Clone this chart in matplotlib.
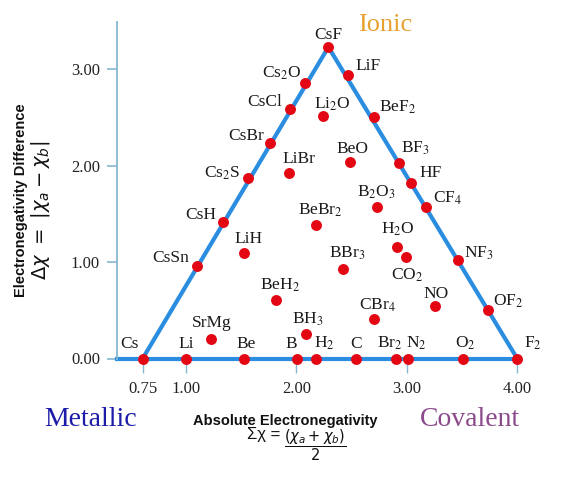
import numpy as np
import matplotlib
matplotlib.use('Agg')
import matplotlib.pyplot as plt

# ---------------- data ----------------
species = ['Cs', 'Li', 'Be', 'B', 'H$_2$', 'C', 'Br$_2$', 'N$_2$', 'O$_2$', 'F$_2$',
           'CsSn', 'CsH', 'Cs$_2$S', 'CsBr', 'CsCl', 'Cs$_2$O', 'CsF',
           'LiF', 'BeF$_2$', 'BF$_3$', 'HF', 'CF$_4$', 'NF$_3$', 'OF$_2$',
           'Li$_2$O', 'LiBr', 'BeO', 'B$_2$O$_3$', 'BeBr$_2$', 'H$_2$O', 'CO$_2$',
           'BBr$_3$', 'LiH', 'BeH$_2$', 'NO', 'CBr$_4$', 'SrMg', 'BH$_3$']
abs_en = [0.75, 1.00, 1.53, 2.01, 2.18, 2.54, 2.90, 3.01, 3.51, 4.00,
          1.10, 1.34, 1.56, 1.76, 1.94, 2.08, 2.29,
          2.47, 2.70, 2.93, 3.04, 3.17, 3.46, 3.74,
          2.24, 1.93, 2.49, 2.73, 2.18, 2.91, 2.99,
          2.42, 1.53, 1.82, 3.26, 2.70, 1.23, 2.09]
diff_en = [0.00, 0.00, 0.00, 0.00, 0.00, 0.00, 0.00, 0.00, 0.00, 0.00,
           0.96, 1.42, 1.87, 2.24, 2.59, 2.86, 3.23,
           2.94, 2.50, 2.03, 1.82, 1.57, 1.02, 0.50,
           2.51, 1.92, 2.04, 1.57, 1.38, 1.16, 1.05,
           0.93, 1.09, 0.61, 0.54, 0.41, 0.20, 0.25]
x_ticks = [0.75, 1.00, 2.00, 3.00, 4.00]
x_ticklabels = ['0.75', '1.00', '2.00', '3.00', '4.00']
y_ticks = [0.00, 1.00, 2.00, 3.00]
y_ticklabels = ['0.00', '1.00', '2.00', '3.00']
vertices = ['Cs', 'CsF', 'F$_2$']   # metallic, ionic, covalent corners

# ---------------- label placement (pixels: dx, dy, ha) ----------------
label_pos = {
    'Cs': (-13, 11, 'center'), 'Li': (0, 11, 'center'), 'Be': (2, 11, 'center'),
    'B': (-6, 11, 'center'), 'H$_2$': (8, 11, 'center'), 'C': (0, 11, 'center'),
    'Br$_2$': (-6, 11, 'center'), 'N$_2$': (8, 11, 'center'), 'O$_2$': (2, 11, 'center'),
    'F$_2$': (7, 11, 'left'),
    'CsSn': (-8, 4, 'right'), 'CsH': (-7, 3, 'right'), 'Cs$_2$S': (-8, 1, 'right'),
    'CsBr': (-6, 3, 'right'), 'CsCl': (-8, 3, 'right'), 'Cs$_2$O': (-4, 5, 'right'),
    'CsF': (0, 8, 'center'),
    'LiF': (7, 5, 'left'), 'BeF$_2$': (5, 6, 'left'), 'BF$_3$': (2, 10, 'left'),
    'HF': (8, 6, 'left'), 'CF$_4$': (7, 5, 'left'), 'NF$_3$': (6, 3, 'left'),
    'OF$_2$': (5, 5, 'left'),
    'Li$_2$O': (9, 8, 'center'), 'LiBr': (10, 10, 'center'), 'BeO': (2, 9, 'center'),
    'B$_2$O$_3$': (-1, 11, 'center'), 'BeBr$_2$': (4, 11, 'center'),
    'H$_2$O': (1, 13, 'center'), 'CO$_2$': (1, -22, 'center'),
    'BBr$_3$': (5, 11, 'center'), 'LiH': (4, 10, 'center'), 'BeH$_2$': (3, 10, 'center'),
    'NO': (1, 8, 'center'), 'CBr$_4$': (4, 9, 'center'), 'SrMg': (0, 12, 'center'),
    'BH$_3$': (2, 11, 'center'),
}

# ---------------- figure ----------------
W, H = 581, 478
fig = plt.figure(figsize=(W / 100, H / 100), dpi=100)
ax = fig.add_axes([116.7 / W, 1 - 358.5 / H, 433.3 / W, 336.5 / H])

K = 1.568  # the 0.75 - 1.00 stretch of the original (not to scale)


def fwd(x):
    x = np.asarray(x, dtype=float)
    return np.where(x < 1, 1 - (1 - x) * K, x)


def inv(t):
    t = np.asarray(t, dtype=float)
    return np.where(t < 1, 1 - (1 - t) / K, t)


ax.set_xscale('function', functions=(fwd, inv))
ax.set_xlim(0.60, 4.297)
ax.set_ylim(0, 3.49)

tri_blue = '#2a8de0'
axis_blue = '#86b8d0'

# triangle edges
vx = [abs_en[species.index(v)] for v in vertices]
vy = [diff_en[species.index(v)] for v in vertices]
ax.plot(vx, vy, color=tri_blue, lw=3.0, solid_capstyle='round',
        solid_joinstyle='miter', zorder=2, clip_on=False)

# points
ax.scatter(abs_en, diff_en, s=62, color='#e30613', zorder=4, clip_on=False,
           linewidths=0)

for name, x, y in zip(species, abs_en, diff_en):
    dx, dy, ha = label_pos[name]
    ax.annotate(name, (x, y), xytext=(dx, dy), textcoords='offset pixels',
                ha=ha, va='baseline', fontsize=12.5, family='Liberation Serif',
                math_fontfamily='stix', color='#1a1a1a', zorder=5,
                annotation_clip=False)

# spines
for s in ['top', 'right']:
    ax.spines[s].set_visible(False)
ax.spines['left'].set_color(axis_blue)
ax.spines['left'].set_linewidth(1.3)
ax.spines['bottom'].set_color(tri_blue)
ax.spines['bottom'].set_linewidth(3.0)
ax.spines['bottom'].set_bounds(0.60, 4.00)
ax.spines['bottom'].set_zorder(2)

ax.set_xticks(x_ticks)
ax.set_xticklabels(x_ticklabels)
ax.set_yticks(y_ticks)
ax.set_yticklabels(y_ticklabels)
ax.minorticks_off()
ax.tick_params(axis='x', direction='out', length=10, width=1.0, color=axis_blue,
               pad=6, labelsize=12, labelcolor='#222222')
ax.tick_params(axis='y', direction='out', length=7, width=1.2, color=axis_blue,
               pad=5, labelsize=12, labelcolor='#222222')
for lab in ax.get_xticklabels() + ax.get_yticklabels():
    lab.set_family('Liberation Serif')


def ftxt(px, py, s, **kw):
    fig.text(px / W, 1 - py / H, s, ha='center', va='center', **kw)


ftxt(91, 419, 'Metallic', fontsize=20, family='Liberation Serif', color='#1c1ca8')
ftxt(470, 419, 'Covalent', fontsize=20, family='Liberation Serif', color='#8b4a8b')
ftxt(385, 25, 'Ionic', fontsize=19, family='Liberation Serif', color='#e8a030')

ftxt(285, 421, 'Absolute Electronegativity', fontsize=10.5, fontweight='bold',
     family='Liberation Sans', color='#111111')
ftxt(264, 434, 'Σχ =', fontsize=12, family='Liberation Sans', color='#111111')
ftxt(315, 445, r'$\dfrac{(\chi_a + \chi_b)}{2}$', fontsize=10.5,
     math_fontfamily='dejavusans', color='#111111')
ftxt(21, 200, 'Electronegativity Difference', fontsize=10.5, fontweight='bold',
     family='Liberation Sans', rotation=90, color='#111111')
ftxt(41, 210, r'$\Delta\chi\ =\ |\chi_a - \chi_b|$', fontsize=14, rotation=90,
     math_fontfamily='dejavusans', color='#111111')

fig.savefig('out.png', dpi=100)
